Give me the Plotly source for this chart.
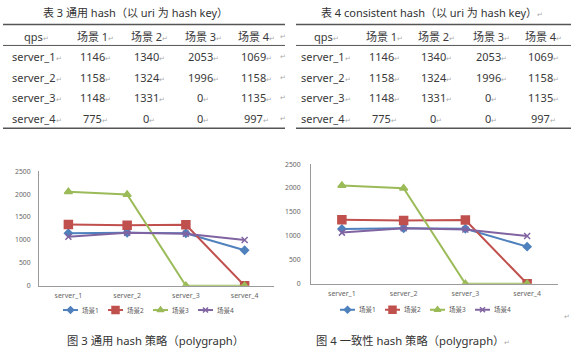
import plotly.graph_objects as go

W, H = 571, 354

servers = ["server_1", "server_2", "server_3", "server_4"]
scenes = ["场景1", "场景2", "场景3", "场景4"]
header = ["qps", "场景 1", "场景 2", "场景 3", "场景 4"]
s1 = [1146, 1158, 1148, 775]
s2 = [1340, 1324, 1331, 0]
s3 = [2053, 1996, 0, 0]
s4 = [1069, 1158, 1135, 997]
series = [s1, s2, s3, s4]
yticks = [0, 500, 1000, 1500, 2000, 2500]

title_t3 = "表 3 通用 hash（以 uri 为 hash key）"
title_t4 = "表 4 consistent hash（以 uri 为 hash key）"
cap_f3 = "图 3 通用 hash 策略（polygraph）"
cap_f4 = "图 4 一致性 hash 策略（polygraph）"

colors = ["#4F81BD", "#C0504D", "#9BBB59", "#8064A2"]
symbols = ["diamond", "square", "triangle-up", "x-thin-open"]
msizes = [6, 8, 7, 6]

FONT = "Noto Sans, Noto Sans CJK SC, sans-serif"
PM = "<span style='font-size:7px;color:#aaaaaa'>↵</span>"


def px(x):
    return x / W


def py(y):
    return 1 - y / H


fig = go.Figure()

# ---- charts ----
for ci, (xa, ya) in enumerate([("x", "y"), ("x2", "y2")]):
    for i, name in enumerate(scenes):
        fig.add_trace(go.Scatter(
            x=servers, y=series[i], name=name, mode="lines+markers",
            xaxis=xa, yaxis=ya, showlegend=False,
            line=dict(color=colors[i], width=2),
            marker=dict(symbol=symbols[i], size=msizes[i], color=colors[i],
                        line=dict(color=colors[i], width=1.5)),
        ))

axis_common = dict(showgrid=False, zeroline=False, showline=True,
                   linecolor="#9a9a9a", linewidth=1, ticks="")
xfont = dict(size=7, color="#666666", family=FONT)
yfont = dict(size=6.8, color="#666666", family=FONT)

fig.update_layout(
    xaxis=dict(domain=[px(39), px(274)], anchor="y", range=[-0.5, 3.5],
               ticklabelstandoff=3, tickfont=xfont, **axis_common),
    yaxis=dict(domain=[py(288), py(170.7)], anchor="x", range=[0, 2500],
               tickvals=yticks, ticklabelstandoff=6, tickfont=yfont, **axis_common),
    xaxis2=dict(domain=[px(311), px(558)], anchor="y2", range=[-0.5, 3.5],
                ticklabelstandoff=3, tickfont=xfont, **axis_common),
    yaxis2=dict(domain=[py(286), py(163.3)], anchor="x2", range=[0, 2500],
                tickvals=yticks, ticklabelstandoff=8, tickfont=yfont, **axis_common),
    # overlay pixel axis used only for the compact legends
    xaxis3=dict(domain=[0, 1], range=[0, W], visible=False, anchor="y3"),
    yaxis3=dict(domain=[0, 1], range=[H, 0], visible=False, anchor="x3"),
)

ann = []
shapes = []

# ---- compact legends (Excel style) ----
legend_layout = [(63, 313), (340, 312.7)]
LEG_STEP, ICON_W = 45, 15
for lx, ly in legend_layout:
    for i, name in enumerate(scenes):
        x0 = lx + i * LEG_STEP
        fig.add_trace(go.Scatter(
            x=[x0, x0 + ICON_W], y=[ly, ly], mode="lines", xaxis="x3", yaxis="y3",
            showlegend=False, hoverinfo="skip",
            line=dict(color=colors[i], width=2)))
        fig.add_trace(go.Scatter(
            x=[x0 + ICON_W / 2], y=[ly], mode="markers", xaxis="x3", yaxis="y3",
            showlegend=False, hoverinfo="skip",
            marker=dict(symbol=symbols[i], size=msizes[i] - 1, color=colors[i],
                        line=dict(color=colors[i], width=1.5))))
        ann.append(dict(x=px(x0 + ICON_W + 1.5), y=py(ly), xref="paper", yref="paper",
                        xanchor="left", yanchor="middle", text=name, showarrow=False,
                        font=dict(size=6.5, color="#555555", family=FONT)))

# ---- tables ----
tables = [
    dict(x0=3, x1=285, cols=[37, 95, 149, 203, 256], title=title_t3, tx=135,
         tail=283, tpm=False),
    dict(x0=296, x1=571, cols=[326, 384, 436, 491, 543], title=title_t4, tx=432,
         tail=None, tpm=True),
]
row_y = [32, 53, 74, 95, 116]
for t in tables:
    ann.append(dict(x=px(t["tx"]), y=py(8), xref="paper", yref="paper",
                    xanchor="center", yanchor="middle",
                    text=t["title"] + (PM if t["tpm"] else ""), showarrow=False,
                    font=dict(size=11, color="#333333", family=FONT)))
    for yy, w in [(20, 1.6), (41.5, 1.0), (126.5, 1.6)]:
        shapes.append(dict(type="line", xref="paper", yref="paper",
                           x0=px(t["x0"]), x1=px(t["x1"]), y0=py(yy), y1=py(yy),
                           line=dict(color="#555555", width=w)))
    rows = [header] + [[servers[r]] + [str(series[c][r]) for c in range(4)]
                       for r in range(4)]
    for r, row in enumerate(rows):
        for c, val in enumerate(row):
            ann.append(dict(x=px(t["cols"][c]), y=py(row_y[r]), xref="paper",
                            yref="paper", xanchor="center", yanchor="middle",
                            text=val + PM, showarrow=False,
                            font=dict(size=11, color="#3a3a3a", family=FONT)))
        if t["tail"]:
            ann.append(dict(x=px(t["tail"]), y=py(row_y[r]), xref="paper",
                            yref="paper", xanchor="center", yanchor="middle",
                            text=PM, showarrow=False,
                            font=dict(size=7, color="#aaaaaa", family=FONT)))

ann.append(dict(x=px(155), y=py(344), xref="paper", yref="paper", text=cap_f3,
                xanchor="center", yanchor="middle",
                showarrow=False, font=dict(size=11.3, color="#333333", family=FONT)))
ann.append(dict(x=px(413), y=py(344), xref="paper", yref="paper", text=cap_f4 + PM,
                xanchor="center", yanchor="middle",
                showarrow=False, font=dict(size=11.3, color="#333333", family=FONT)))
ann.append(dict(x=px(567), y=py(320), xref="paper", yref="paper", text=PM,
                xanchor="center", yanchor="middle",
                showarrow=False, font=dict(size=7, color="#aaaaaa", family=FONT)))

fig.update_layout(
    width=W, height=H, margin=dict(l=0, r=0, t=0, b=0),
    paper_bgcolor="white", plot_bgcolor="rgba(0,0,0,0)",
    annotations=ann, shapes=shapes, showlegend=False,
    font=dict(family=FONT),
)

fig.write_html("out.html")
